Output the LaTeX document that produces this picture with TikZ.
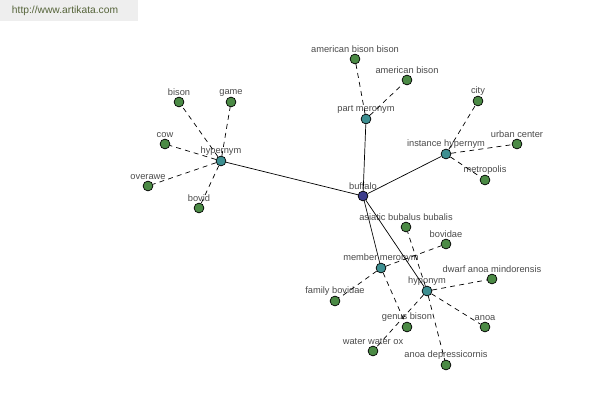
\documentclass[tikz,border=0pt]{standalone}
\usepackage{fontspec}
\setmainfont{Liberation Sans}
\definecolor{leafgreen}{HTML}{4B8A45}
\definecolor{relteal}{HTML}{3D8F91}
\definecolor{rootblue}{HTML}{3C3C8C}
\definecolor{labelgray}{HTML}{4A4A4A}
\definecolor{urlgreen}{HTML}{56643A}
\tikzset{
  dot/.style={circle,draw=black,line width=0.5pt,minimum size=7pt,inner sep=0pt,
    label={[labelgray,font=\fontsize{6.6}{7}\selectfont,inner sep=0.5pt,label distance=-0.2pt]above:#1}},
  leaf/.style={dot=#1,fill=leafgreen},
  rel/.style={dot=#1,fill=relteal},
  sub/.style={dashed,dash pattern=on 3.5pt off 3pt,line width=0.5pt},
}
\begin{document}
\begin{tikzpicture}[x=0.025cm,y=-0.025cm]
    \useasboundingbox (0,0) rectangle (600,400);
    \fill[gray!13] (0,0) rectangle (138,21);
    \node[urlgreen,font=\fontsize{7.3}{8}\selectfont,anchor=west] (url) at (7,11) {http://www.artikata.com};
    \node[dot=buffalo,fill=rootblue] (buffalo) at (363,196) {};
    % relations
    \node[rel=hypernym] (hyper) at (221,161) {};
    \node[rel=part meronym] (partm) at (366,119) {};
    \node[rel=instance hypernym] (insth) at (446,154) {};
    \node[rel=member meronym] (membm) at (381,268) {};
    \node[rel=hyponym] (hypo) at (427,291) {};
    % words
    \node[leaf=bison] (bison) at (179,102) {};
    \node[leaf=game] (game) at (231,102) {};
    \node[leaf=cow] (cow) at (165,144) {};
    \node[leaf=overawe] (overawe) at (148,186) {};
    \node[leaf=bovid] (bovid) at (199,208) {};
    \node[leaf=american bison bison] (abb) at (355,59) {};
    \node[leaf=american bison] (ab) at (407,80) {};
    \node[leaf=city] (city) at (478,101) {};
    \node[leaf=urban center] (urban) at (517,144) {};
    \node[leaf=metropolis] (metro) at (485,180) {};
    \node[leaf=asiatic bubalus bubalis] (abub) at (406,227) {};
    \node[leaf=bovidae] (bovidae) at (446,244) {};
    \node[leaf=dwarf anoa mindorensis] (dwarf) at (492,279) {};
    \node[leaf=family bovidae] (famb) at (335,301) {};
    \node[leaf=genus bison] (genb) at (407,327) {};
    \node[leaf=anoa] (anoa) at (485,327) {};
    \node[leaf=water water ox] (wwox) at (373,351) {};
    \node[leaf=anoa depressicornis] (anoad) at (446,365) {};
    \draw[line width=0.5pt]
    (buffalo) edge (hyper) edge (partm) edge (insth) edge (membm) edge (hypo);
    \draw[sub]
    (hyper) edge (bison) edge (game) edge (cow) edge (overawe) edge (bovid)
    (partm) edge (abb) edge (ab)
    (insth) edge (city) edge (urban) edge (metro)
    (membm) edge (bovidae) edge (famb) edge (genb)
    (hypo) edge (abub) edge (dwarf) edge (anoa) edge (anoad) edge (wwox);
\end{tikzpicture}
\end{document}
